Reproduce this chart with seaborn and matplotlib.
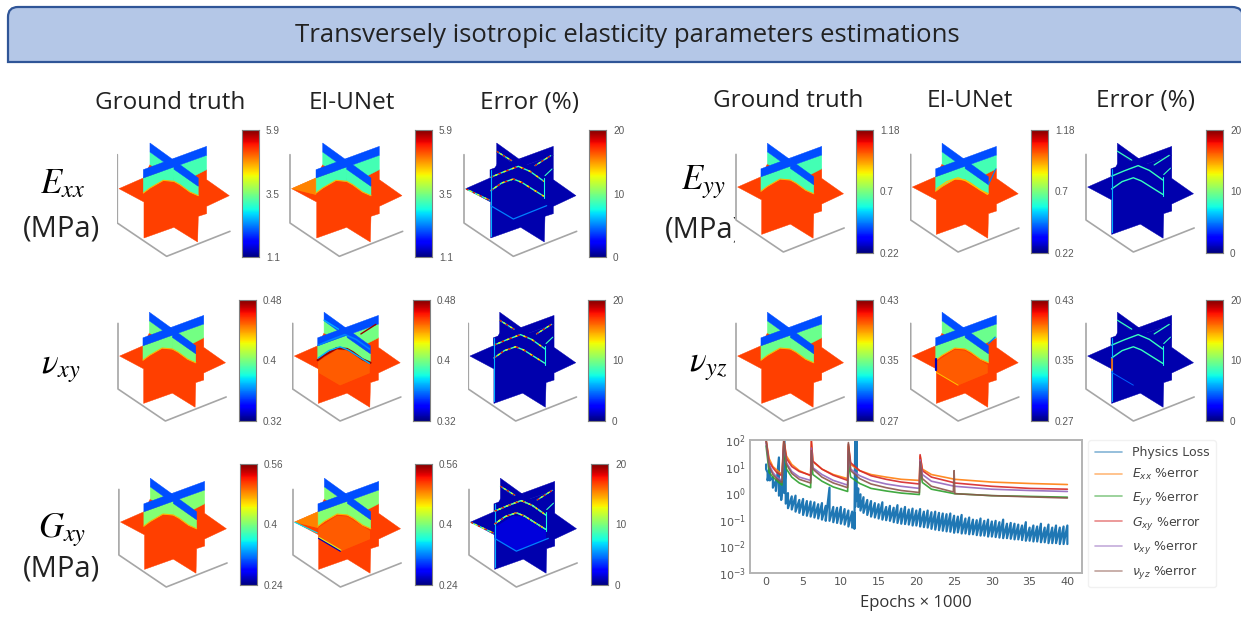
import numpy as np
import pandas as pd
import matplotlib
matplotlib.use("Agg")
import matplotlib.pyplot as plt
import seaborn as sns
from matplotlib.patches import PathPatch, Polygon
from matplotlib.path import Path

# -----------------------------
# 1. Data
# -----------------------------
col_titles = ["Ground truth", "EI-UNet", "Error (%)"]
row_ticks = {
    "Exx": ["1.1", "3.5", "5.9"],
    "Eyy": ["0.22", "0.7", "1.18"],
    "vxy": ["0.32", "0.4", "0.48"],
    "vyz": ["0.27", "0.35", "0.43"],
    "Gxy": ["0.24", "0.4", "0.56"],
}
error_ticks = ["0", "10", "20"]
mid_level = {"Exx": 0.43, "Eyy": 0.43, "vxy": 0.49, "vyz": 0.48, "Gxy": 0.51}

# schematic slices of the volume, in panel units
star = [(57, 222), (130, 190), (150, 150), (320, 165), (320, 195), (388, 243), (320, 275), (320, 297),
        (295, 305), (293, 382), (222, 338), (132, 370), (132, 262)]
axes_frame = [(52, 120), (52, 325), (200, 425), (390, 350)]
back_a_top = [(150, 85), (222, 137), (222, 164), (150, 112)]
back_a_mid = [(150, 112), (222, 164), (222, 190), (150, 150)]
back_b_top = [(222, 131), (320, 95), (320, 122), (222, 157)]
back_b_mid = [(222, 157), (320, 122), (320, 165), (285, 183), (222, 200)]
front_b_top = [(130, 165), (222, 131), (222, 157), (130, 190)]
front_b_mid = [(130, 190), (222, 157), (222, 200), (190, 197), (150, 220), (130, 235)]
front_a_top = [(222, 137), (295, 190), (295, 215), (222, 164)]
front_a_mid = [(222, 164), (295, 215), (295, 243), (270, 232), (240, 210), (222, 200)]
wave = [(130, 235), (150, 220), (190, 197), (222, 200), (240, 210), (270, 232), (295, 243)]
upper_wave = [(132, 188), (170, 172), (215, 155), (250, 170), (292, 200)]
lower_wave = [(132, 228), (165, 205), (200, 193), (225, 203), (260, 225), (292, 245)]
back_a_line = [(150, 110), (195, 138)]
back_b_line = [(265, 153), (312, 123)]
back_b_low = [(295, 183), (316, 163)]
floor_line = [(132, 273), (200, 313), (300, 273)]
tip_line = [(58, 223), (128, 256)]
front_edge = [(132, 165), (132, 363)]
right_edge = [(293, 190), (293, 250)]
inner_patch = [(132, 240), (190, 203), (222, 206), (292, 250), (292, 275), (200, 313), (132, 273)]
tip_patch = [(57, 222), (130, 190), (130, 240)]

# training curves (epochs x 1000)
curve_epochs = [0.1, 0.5, 1.0, 1.5, 2.2, 2.45, 2.8, 3.5, 4.5, 6.0, 6.1, 6.3, 7.5, 9.0, 10.9, 11.0, 11.3,
                12.5, 14.0, 16.0, 18.0, 20.4, 20.5, 20.8, 22.0, 24.9, 25.0, 25.1, 30.0, 35.0, 40.0]
exx_error = [100, 20, 10, 7.5, 5, 100, 25, 12, 7, 4.5, 90, 15, 8, 5, 3.5, 60, 12,
             7, 5, 4, 3.3, 3, 25, 8, 5, 3.4, 3.3, 3.3, 2.6, 2.3, 2.1]
eyy_error = [60, 6, 4, 3, 2, 40, 8, 4, 2.4, 1.6, 20, 5, 2.8, 1.7, 1.15, 15, 4,
             2.3, 1.5, 1.2, 1, 0.88, 8, 2.5, 1.4, 0.97, 0.95, 0.95, 0.8, 0.75, 0.7]
gxy_error = [100, 15, 9, 6, 4.5, 100, 20, 10, 6.5, 4.7, 90, 16, 8, 4.7, 3, 70, 14,
             7, 4.5, 3.3, 2.6, 2.2, 28, 7, 4, 2.5, 2.4, 2.4, 1.8, 1.5, 1.4]
vxy_error = [80, 12, 6, 4, 3, 70, 14, 6.5, 4, 3, 50, 9, 5, 3, 2, 40, 8,
             4.5, 3, 2.2, 1.8, 1.5, 18, 5, 2.8, 1.85, 1.8, 1.8, 1.4, 1.25, 1.15]
vyz_error = [100, 10, 5, 3.5, 2.5, 100, 12, 5.5, 3.3, 2.4, 40, 8, 4, 2.4, 1.6, 80, 7,
             3.5, 2.2, 1.6, 1.25, 1.05, 15, 3.5, 1.8, 1.1, 7, 0.95, 0.8, 0.72, 0.65]

physics_epochs = [0.1, 0.3, 0.6, 1.0, 1.4, 1.8, 2.1, 2.4, 2.5, 2.7, 3.0, 3.5, 4.0, 4.5, 5.0, 5.5, 6.0, 6.5,
                  7.0, 7.5, 8.0, 8.5, 9.0, 9.5, 10.0, 10.5, 11.0, 11.5, 11.8, 11.9, 12.1, 12.3, 12.6, 13.0,
                  13.5, 14.0, 14.5, 15.0, 15.5, 16.0, 16.5, 17.0, 17.5, 18.0, 18.5, 19.0, 19.5, 20.0, 20.5,
                  21.0, 21.5, 22.0, 22.5, 23.0, 23.5, 24.0, 24.5, 25.0, 25.5, 26.0, 26.5, 27.0, 27.5, 28.0,
                  28.5, 29.0, 29.5, 30.0, 30.5, 31.0, 31.5, 32.0, 32.5, 33.0, 33.5, 34.0, 34.5, 35.0, 35.5,
                  36.0, 36.5, 37.0, 37.5, 38.0, 38.5, 39.0, 39.5, 40.0]
physics_peak = [12, 6, 10, 4, 3, 22, 3, 5, 100, 12, 1.0, 0.75, 0.8, 0.55, 0.6, 0.5, 0.48, 0.45,
                0.38, 0.42, 0.33, 1.6, 0.3, 0.28, 0.3, 0.25, 0.22, 0.2, 0.18, 100, 100, 1.5, 0.9, 0.7,
                0.55, 0.5, 0.42, 0.38, 0.45, 0.3, 0.33, 0.28, 0.35, 0.26, 0.3, 0.24, 0.26, 0.22, 0.25,
                0.2, 0.22, 0.19, 0.2, 0.18, 0.17, 0.16, 0.17, 0.14, 0.13, 0.15, 0.11, 0.12, 0.1, 0.095,
                0.11, 0.09, 0.1, 0.085, 0.09, 0.08, 0.1, 0.07, 0.075, 0.07, 0.065, 0.06, 0.08, 0.05, 0.06,
                0.055, 0.07, 0.05, 0.065, 0.05, 0.06, 0.05, 0.055, 0.06]
physics_trough = [8, 3, 3, 1.6, 1.2, 0.8, 0.55, 1.2, 1, 0.4, 0.27, 0.24, 0.2, 0.18, 0.15, 0.14, 0.13, 0.12,
                  0.11, 0.1, 0.09, 0.09, 0.08, 0.075, 0.07, 0.065, 0.055, 0.05, 0.045, 0.3, 0.5, 0.3, 0.22, 0.18,
                  0.15, 0.13, 0.12, 0.11, 0.1, 0.095, 0.09, 0.08, 0.075, 0.07, 0.068, 0.065, 0.06, 0.06, 0.055,
                  0.052, 0.05, 0.045, 0.042, 0.04, 0.038, 0.036, 0.035, 0.032, 0.033, 0.03, 0.03, 0.028, 0.028,
                  0.026, 0.025, 0.025, 0.023, 0.023, 0.022, 0.021, 0.02, 0.02, 0.019, 0.018, 0.018, 0.017, 0.016,
                  0.016, 0.015, 0.015, 0.014, 0.014, 0.013, 0.013, 0.013, 0.012, 0.012, 0.012]

curve_labels = ["Physics Loss", r"$E_{xx}$ %error", r"$E_{yy}$ %error", r"$G_{xy}$ %error",
                r"$\nu_{xy}$ %error", r"$\nu_{yz}$ %error"]

# -----------------------------
# 2. Figure set up
# -----------------------------
W, H = 1241, 617
sns.set_theme(style="white")
plt.rcParams["font.family"] = ["Open Sans", "DejaVu Sans"]
plt.rcParams["mathtext.fontset"] = "dejavusans"
fig = plt.figure(figsize=(W / 100, H / 100), dpi=100, facecolor="white")
jet = plt.get_cmap("jet")


def px_axes(left, top, width, height, **kw):
    return fig.add_axes([left / W, 1 - (top + height) / H, width / W, height / H], **kw)


# background layer, in pixels
bg = px_axes(0, 0, W, H, zorder=0)
bg.set_xlim(0, W)
bg.set_ylim(H, 0)
bg.axis("off")

banner = Path(
    [(8, 62), (8, 17), (8, 7), (18, 7), (1232, 7), (1243, 7), (1243, 17), (1243, 62), (8, 62)],
    [Path.MOVETO, Path.LINETO, Path.CURVE3, Path.CURVE3, Path.LINETO, Path.CURVE3, Path.CURVE3, Path.LINETO, Path.CLOSEPOLY],
)
bg.add_patch(PathPatch(banner, facecolor="#b4c7e7", edgecolor="#2f5597", lw=1.6))
bg.text(627, 36, "Transversely isotropic elasticity parameters estimations", ha="center", va="center",
        fontsize=18.5, color="#222222")

for xs, y in [((170, 352, 529), 103), ((788, 970, 1146), 101)]:
    for x, title in zip(xs, col_titles):
        bg.text(x, y, title, ha="center", va="center", fontsize=17.5, color="#222222")

math_kw = dict(ha="center", va="center", fontsize=25, color="black", math_fontfamily="stix")
unit_kw = dict(ha="center", va="center", fontsize=21, color="#222222")
bg.text(62, 184, r"$E_{xx}$", **math_kw)
bg.text(62, 229, "(MPa)", **unit_kw)
bg.text(703, 182, r"$E_{yy}$", **math_kw)
bg.text(704, 230, "(MPa)", **unit_kw)
bg.text(61, 368, r"$\nu_{xy}$", **math_kw)
bg.text(708, 366, r"$\nu_{yz}$", **math_kw)
bg.text(62, 530, r"$G_{xy}$", **math_kw)
bg.text(62, 569, "(MPa)", **unit_kw)


# -----------------------------
# 3. Slice panels and colorbars
# -----------------------------
def poly(ax, pts, color, **kw):
    ax.add_patch(Polygon(pts, closed=True, facecolor=color, edgecolor=color, lw=0.3, **kw))


def line(ax, pts, color, lw=0.9, **kw):
    ax.plot([p[0] for p in pts], [p[1] for p in pts], color=color, lw=lw, solid_capstyle="round", **kw)


def speckle(ax, pts, lw=1.0, hot=True):
    line(ax, pts, jet(0.42), lw=lw)
    if hot:
        ax.plot([p[0] for p in pts], [p[1] for p in pts], color=jet(0.9), lw=lw, ls=(0, (2, 4)))
        ax.plot([p[0] for p in pts], [p[1] for p in pts], color=jet(0.65), lw=lw, ls=(3, (1.5, 5)))


def draw_slices(ax, top, mid, ground):
    poly(ax, star, ground)
    for a, b in [(back_a_top, back_a_mid), (back_b_top, back_b_mid), (front_b_top, front_b_mid), (front_a_top, front_a_mid)]:
        poly(ax, b, mid)
        poly(ax, a, top)


def panel(ox, oy, s, row, kind):
    ax = px_axes(ox - 2 / 3 * s, oy - 255 / 3 * s, 350 / 3 * s, 365 / 3 * s, zorder=1)
    ax.set_xlim(50, 400)
    ax.set_ylim(435, 70)
    ax.set_xticks([])
    ax.set_yticks([])
    sns.despine(ax=ax, left=True, bottom=True)
    line(ax, axes_frame, "#a6a6a6", lw=1.2)

    blue, orange = jet(0.2), jet(0.84)
    mid = jet(mid_level[row])
    if kind == "truth":
        draw_slices(ax, blue, mid, orange)
        line(ax, wave, jet(0.72), lw=0.8)
    elif kind == "net":
        draw_slices(ax, blue, mid, orange)
        line(ax, wave, jet(0.72), lw=0.8)
        if row in ("Gxy", "vyz", "vxy"):
            poly(ax, inner_patch, jet(0.8), alpha=0.7)
        if row in ("Exx", "Gxy"):
            poly(ax, tip_patch, jet(0.74), alpha=0.7)
        if row == "Eyy":
            line(ax, lower_wave, jet(0.7), lw=0.9)
            line(ax, [(295, 215), (318, 165)], jet(0.25), lw=0.8)
        if row == "vxy":
            line(ax, wave, jet(0.98), lw=1.6)
            line(ax, upper_wave, jet(0.25), lw=1.2)
            line(ax, lower_wave, jet(0.3), lw=1.0)
            line(ax, back_b_line, jet(0.98), lw=1.0)
            line(ax, back_a_line, jet(0.3), lw=1.0)
        if row == "vyz":
            line(ax, [(132, 232), (132, 265)], jet(0.05), lw=1.6)
            line(ax, floor_line[:2], jet(0.7), lw=0.7)
            line(ax, back_b_low, jet(0.25), lw=1.0)
        if row == "Gxy":
            line(ax, floor_line[:2], jet(0.05), lw=1.0)
            line(ax, [(134, 270), (202, 310)], jet(0.6), lw=0.7)
            line(ax, tip_line, jet(0.35), lw=0.8)
    else:
        dark = jet(0.04)
        draw_slices(ax, dark, dark, dark)
        strong = row in ("Exx", "Gxy", "vxy")
        speckle(ax, upper_wave, lw=1.0, hot=strong)
        speckle(ax, lower_wave, lw=1.0, hot=strong)
        speckle(ax, back_a_line, lw=0.9, hot=strong)
        speckle(ax, back_b_line, lw=0.9, hot=strong)
        speckle(ax, back_b_low, lw=0.8, hot=False)
        line(ax, front_edge, jet(0.3), lw=0.8)
        line(ax, right_edge, jet(0.38), lw=0.8)
        if row in ("Exx", "Gxy"):
            line(ax, floor_line, jet(0.25), lw=0.9)
            speckle(ax, tip_line, lw=0.9)
        if row == "Gxy":
            poly(ax, inner_patch, jet(0.09), alpha=0.8)
            speckle(ax, lower_wave, lw=0.9)
            speckle(ax, upper_wave, lw=0.9)
        if row == "vyz":
            line(ax, [(132, 232), (132, 265)], jet(0.8), lw=1.2)
            line(ax, floor_line[:2], jet(0.22), lw=0.7)


def colorbar(left, top, height, ticks):
    ax = px_axes(left, top, 17, height, zorder=1)
    values = [float(t) for t in ticks]
    n = 256
    gradient = pd.DataFrame(np.linspace(values[2], values[0], n).reshape(-1, 1))
    sns.heatmap(gradient, ax=ax, cmap="jet", vmin=values[0], vmax=values[2], cbar=False,
                xticklabels=False, yticklabels=False)
    ax.set_xlabel("")
    ax.set_ylabel("")
    ax.yaxis.tick_right()
    ax.set_yticks([n, n / 2, 0], ticks)
    ax.tick_params(axis="y", length=0, pad=5, labelsize=7.2, labelcolor="#595959", labelrotation=0)
    for t in ax.get_yticklabels():
        t.set_fontfamily("Liberation Sans")
    for sp in ax.spines.values():
        sp.set_visible(True)
        sp.set_edgecolor("#808080")
        sp.set_linewidth(0.8)


# (row, panel corners per column, corner y, scale, colorbar lefts, colorbar top, colorbar height)
layout = [
    ("Exx", (117.3, 290, 464), 223, 1.0, (242, 415, 589), 130, 127),
    ("vxy", (118, 292.7, 468.3), 389, 0.96, (239, 413, 588), 300, 120.7),
    ("Gxy", (118.9, 293, 469), 555, 0.96, (239.5, 414.5, 591), 464, 121),
    ("Eyy", (736, 910.7, 1086), 220, 0.96, (856, 1031, 1206), 130, 122.7),
    ("vyz", (736, 910.7, 1086), 389, 0.96, (856, 1031, 1206), 300, 120.7),
]
for row, corners, oy, s, bars, bar_top, bar_h in layout:
    for cx, bx, kind in zip(corners, bars, ["truth", "net", "error"]):
        panel(cx, oy, s, row, kind)
        colorbar(bx, bar_top, bar_h, error_ticks if kind == "error" else row_ticks[row])

# -----------------------------
# 4. Training curves
# -----------------------------
ax = px_axes(750, 440, 331.7, 132.7, zorder=2)
palette = sns.color_palette("tab10", 6)

physics = pd.DataFrame({
    "epoch": np.repeat(physics_epochs, 2),
    "value": np.column_stack([physics_peak, physics_trough]).ravel(),
})
sns.lineplot(data=physics, x="epoch", y="value", ax=ax, color=palette[0], lw=1.6, sort=False,
             estimator=None, label=curve_labels[0])
curves = [exx_error, eyy_error, gxy_error, vxy_error, vyz_error]
for i, values in enumerate(curves):
    table = pd.DataFrame({"epoch": curve_epochs, "value": values})
    sns.lineplot(data=table, x="epoch", y="value", ax=ax, color=palette[i + 1], lw=1.2, alpha=0.9,
                 estimator=None, label=curve_labels[i + 1])

ax.set_yscale("log")
ax.set_xlim(-2.03, 41.9)
ax.set_ylim(1e-3, 1e2)
ax.set_xticks(range(0, 41, 5))
ax.set_yticks([1e-3, 1e-2, 1e-1, 1e0, 1e1, 1e2])
ax.minorticks_off()
ax.tick_params(axis="both", labelsize=8, labelcolor="#555555", length=0, pad=3)
for t in ax.get_xticklabels() + ax.get_yticklabels():
    t.set_fontfamily("DejaVu Sans")
ax.set_xlabel("Epochs \u00d7 1000", fontsize=12, color="#333333", labelpad=6)
ax.set_ylabel("")
for sp in ax.spines.values():
    sp.set_edgecolor("#b3b3b3")
    sp.set_linewidth(1.4)

leg = ax.legend(loc="upper left", bbox_to_anchor=(1.02, 1.0), borderaxespad=0, frameon=True, fontsize=9,
                labelspacing=0.62, handlelength=2.2, borderpad=0.5, labelcolor="#444444",
                prop={"family": "DejaVu Sans", "size": 9})
leg.get_frame().set_edgecolor("#eeeeee")
for h in leg.get_lines():
    h.set_alpha(0.55)
    h.set_linewidth(1.2)

fig.savefig("out.png", dpi=100)
